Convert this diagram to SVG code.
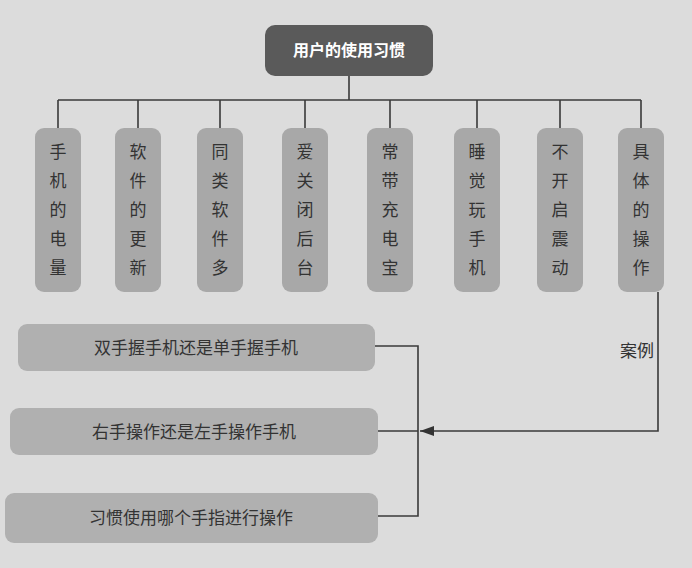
<svg xmlns="http://www.w3.org/2000/svg" width="692" height="568" viewBox="0 0 692 568">
<style>
.col{fill:#a8a8a8}
.low{fill:#b0b0b0}
.t{font-family:"Noto Sans CJK SC",sans-serif;font-size:17px;fill:#333}
.ln{stroke:#3a3a3a;stroke-width:1.6;fill:none}
</style>
<defs><marker id="ar" markerWidth="14" markerHeight="10" refX="14" refY="5" orient="auto" markerUnits="userSpaceOnUse"><path d="M0,0 L14,5 L0,10 Z" fill="#333"/></marker></defs>
<rect width="692" height="568" fill="#dcdcdc"/>
<g id="connectors">
<path class="ln" d="M349,76 V100 M58,100 H641 M58,100 V128 M138,100 V128 M220,100 V128 M305,100 V128 M390,100 V128 M477,100 V128 M560,100 V128 M641,100 V128"/>
<path class="ln" d="M375,346 H418 V516 H378 M378,431 H418"/>
<path class="ln" d="M658,292 V431 H420" marker-end="url(#ar)"/>
<text class="t" x="620" y="357">案例</text>
</g>
<g id="root"><rect x="265" y="25" width="168" height="51" rx="10" fill="#5a5a5a"/><text x="349" y="56" text-anchor="middle" font-family="Noto Sans CJK SC,sans-serif" font-size="16" font-weight="bold" fill="#fff">用户的使用习惯</text></g>
<g id="c1"><rect class="col" x="35" y="128" width="46" height="164" rx="9"/><text class="t" text-anchor="middle"><tspan x="58" y="158">手</tspan><tspan x="58" dy="29">机</tspan><tspan x="58" dy="29">的</tspan><tspan x="58" dy="29">电</tspan><tspan x="58" dy="29">量</tspan></text></g>
<g id="c2"><rect class="col" x="115" y="128" width="46" height="164" rx="9"/><text class="t" text-anchor="middle"><tspan x="138" y="158">软</tspan><tspan x="138" dy="29">件</tspan><tspan x="138" dy="29">的</tspan><tspan x="138" dy="29">更</tspan><tspan x="138" dy="29">新</tspan></text></g>
<g id="c3"><rect class="col" x="197" y="128" width="46" height="164" rx="9"/><text class="t" text-anchor="middle"><tspan x="220" y="158">同</tspan><tspan x="220" dy="29">类</tspan><tspan x="220" dy="29">软</tspan><tspan x="220" dy="29">件</tspan><tspan x="220" dy="29">多</tspan></text></g>
<g id="c4"><rect class="col" x="282" y="128" width="46" height="164" rx="9"/><text class="t" text-anchor="middle"><tspan x="305" y="158">爱</tspan><tspan x="305" dy="29">关</tspan><tspan x="305" dy="29">闭</tspan><tspan x="305" dy="29">后</tspan><tspan x="305" dy="29">台</tspan></text></g>
<g id="c5"><rect class="col" x="367" y="128" width="46" height="164" rx="9"/><text class="t" text-anchor="middle"><tspan x="390" y="158">常</tspan><tspan x="390" dy="29">带</tspan><tspan x="390" dy="29">充</tspan><tspan x="390" dy="29">电</tspan><tspan x="390" dy="29">宝</tspan></text></g>
<g id="c6"><rect class="col" x="454" y="128" width="46" height="164" rx="9"/><text class="t" text-anchor="middle"><tspan x="477" y="158">睡</tspan><tspan x="477" dy="29">觉</tspan><tspan x="477" dy="29">玩</tspan><tspan x="477" dy="29">手</tspan><tspan x="477" dy="29">机</tspan></text></g>
<g id="c7"><rect class="col" x="537" y="128" width="46" height="164" rx="9"/><text class="t" text-anchor="middle"><tspan x="560" y="158">不</tspan><tspan x="560" dy="29">开</tspan><tspan x="560" dy="29">启</tspan><tspan x="560" dy="29">震</tspan><tspan x="560" dy="29">动</tspan></text></g>
<g id="c8"><rect class="col" x="618" y="128" width="46" height="164" rx="9"/><text class="t" text-anchor="middle"><tspan x="641" y="158">具</tspan><tspan x="641" dy="29">体</tspan><tspan x="641" dy="29">的</tspan><tspan x="641" dy="29">操</tspan><tspan x="641" dy="29">作</tspan></text></g>
<g id="b1"><rect class="low" x="18" y="324" width="357" height="47" rx="9"/><text class="t" x="196" y="354" text-anchor="middle">双手握手机还是单手握手机</text></g>
<g id="b2"><rect class="low" x="10" y="408" width="368" height="47" rx="9"/><text class="t" x="194" y="438" text-anchor="middle">右手操作还是左手操作手机</text></g>
<g id="b3"><rect class="low" x="5" y="493" width="373" height="50" rx="9"/><text class="t" x="191" y="524" text-anchor="middle">习惯使用哪个手指进行操作</text></g>
</svg>
